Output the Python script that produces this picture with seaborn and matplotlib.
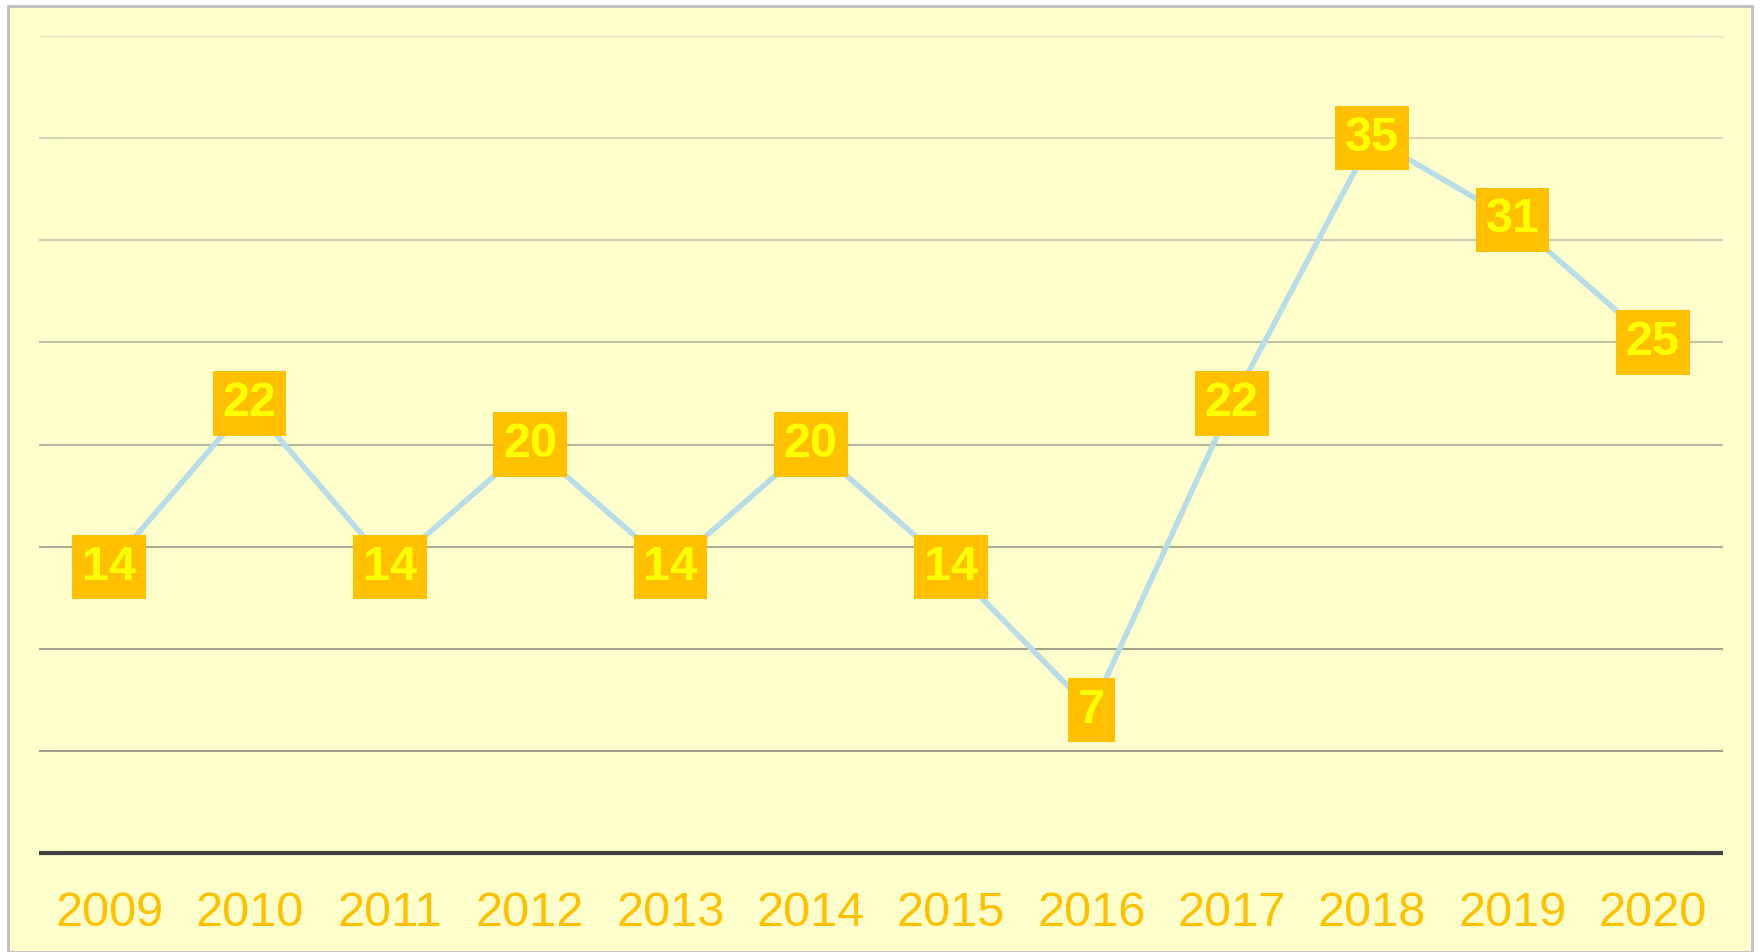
import pandas as pd
import matplotlib.pyplot as plt
import seaborn as sns
from matplotlib.patches import Rectangle

# -------------------------------
# Data
# -------------------------------
years = [2009, 2010, 2011, 2012, 2013, 2014, 2015, 2016, 2017, 2018, 2019, 2020]
values = [14, 22, 14, 20, 14, 20, 14, 7, 22, 35, 31, 25]
grid_levels = [5, 10, 15, 20, 25, 30, 35, 40]

df = pd.DataFrame({'Year': years, 'Value': values})

# -------------------------------
# Style
# -------------------------------
sns.set_style('white')
plt.rcParams['font.family'] = ['Liberation Sans', 'DejaVu Sans']

bg = '#FFFFCC'
gold = '#FFC000'

fig = plt.figure(figsize=(17.6, 9.52), dpi=100, facecolor='white')

# chart frame
W, H = 1760, 952
fig.patches.append(Rectangle((8 / W, 0), (1752 - 8) / W, 1 - 6 / H,
                             transform=fig.transFigure, facecolor=bg,
                             edgecolor='#BFBFBF', linewidth=2, zorder=-5))

ax = fig.add_axes([39 / W, 1 - 853 / H, (1723 - 39) / W, (853 - 36) / H])
ax.set_zorder(2)
ax.set_facecolor('none')

# gridlines: lighter at top, darker towards bottom
grid_cols = ['#A0A088', '#A4A48C', '#ACAC92', '#B6B69C', '#C2C2A6', '#CCCCB0', '#D6D6BA', '#E0E0C6']
for lvl, c in zip(grid_levels, grid_cols):
    ax.axhline(lvl, color=c, linewidth=1.5, zorder=1)
ax.axhline(0, color='#404040', linewidth=3, zorder=2, clip_on=False, solid_capstyle='butt')

sns.lineplot(data=df, x='Year', y='Value', ax=ax, color='#B7DEE8',
             linewidth=4, marker='o', markersize=12, markeredgewidth=0, zorder=3)

for x, v in zip(years, values):
    ax.text(x, v, str(v), ha='center', va='center', fontsize=35, fontweight='bold',
            color='#FFFF00', zorder=5,
            bbox=dict(boxstyle='square,pad=0.2', facecolor=gold, edgecolor='none'))

ax.set_xlim(years[0] - 0.5, years[-1] + 0.5)
ax.set_ylim(0, 40)
ax.set_xticks(years)
ax.set_xticklabels([str(y) for y in years], color=gold, fontsize=35)
ax.tick_params(axis='x', length=0, pad=27)
ax.set_yticks([])
ax.set_xlabel('')
ax.set_ylabel('')
for s in ax.spines.values():
    s.set_visible(False)

plt.savefig('out.png', dpi=100, facecolor='white')
plt.close()
